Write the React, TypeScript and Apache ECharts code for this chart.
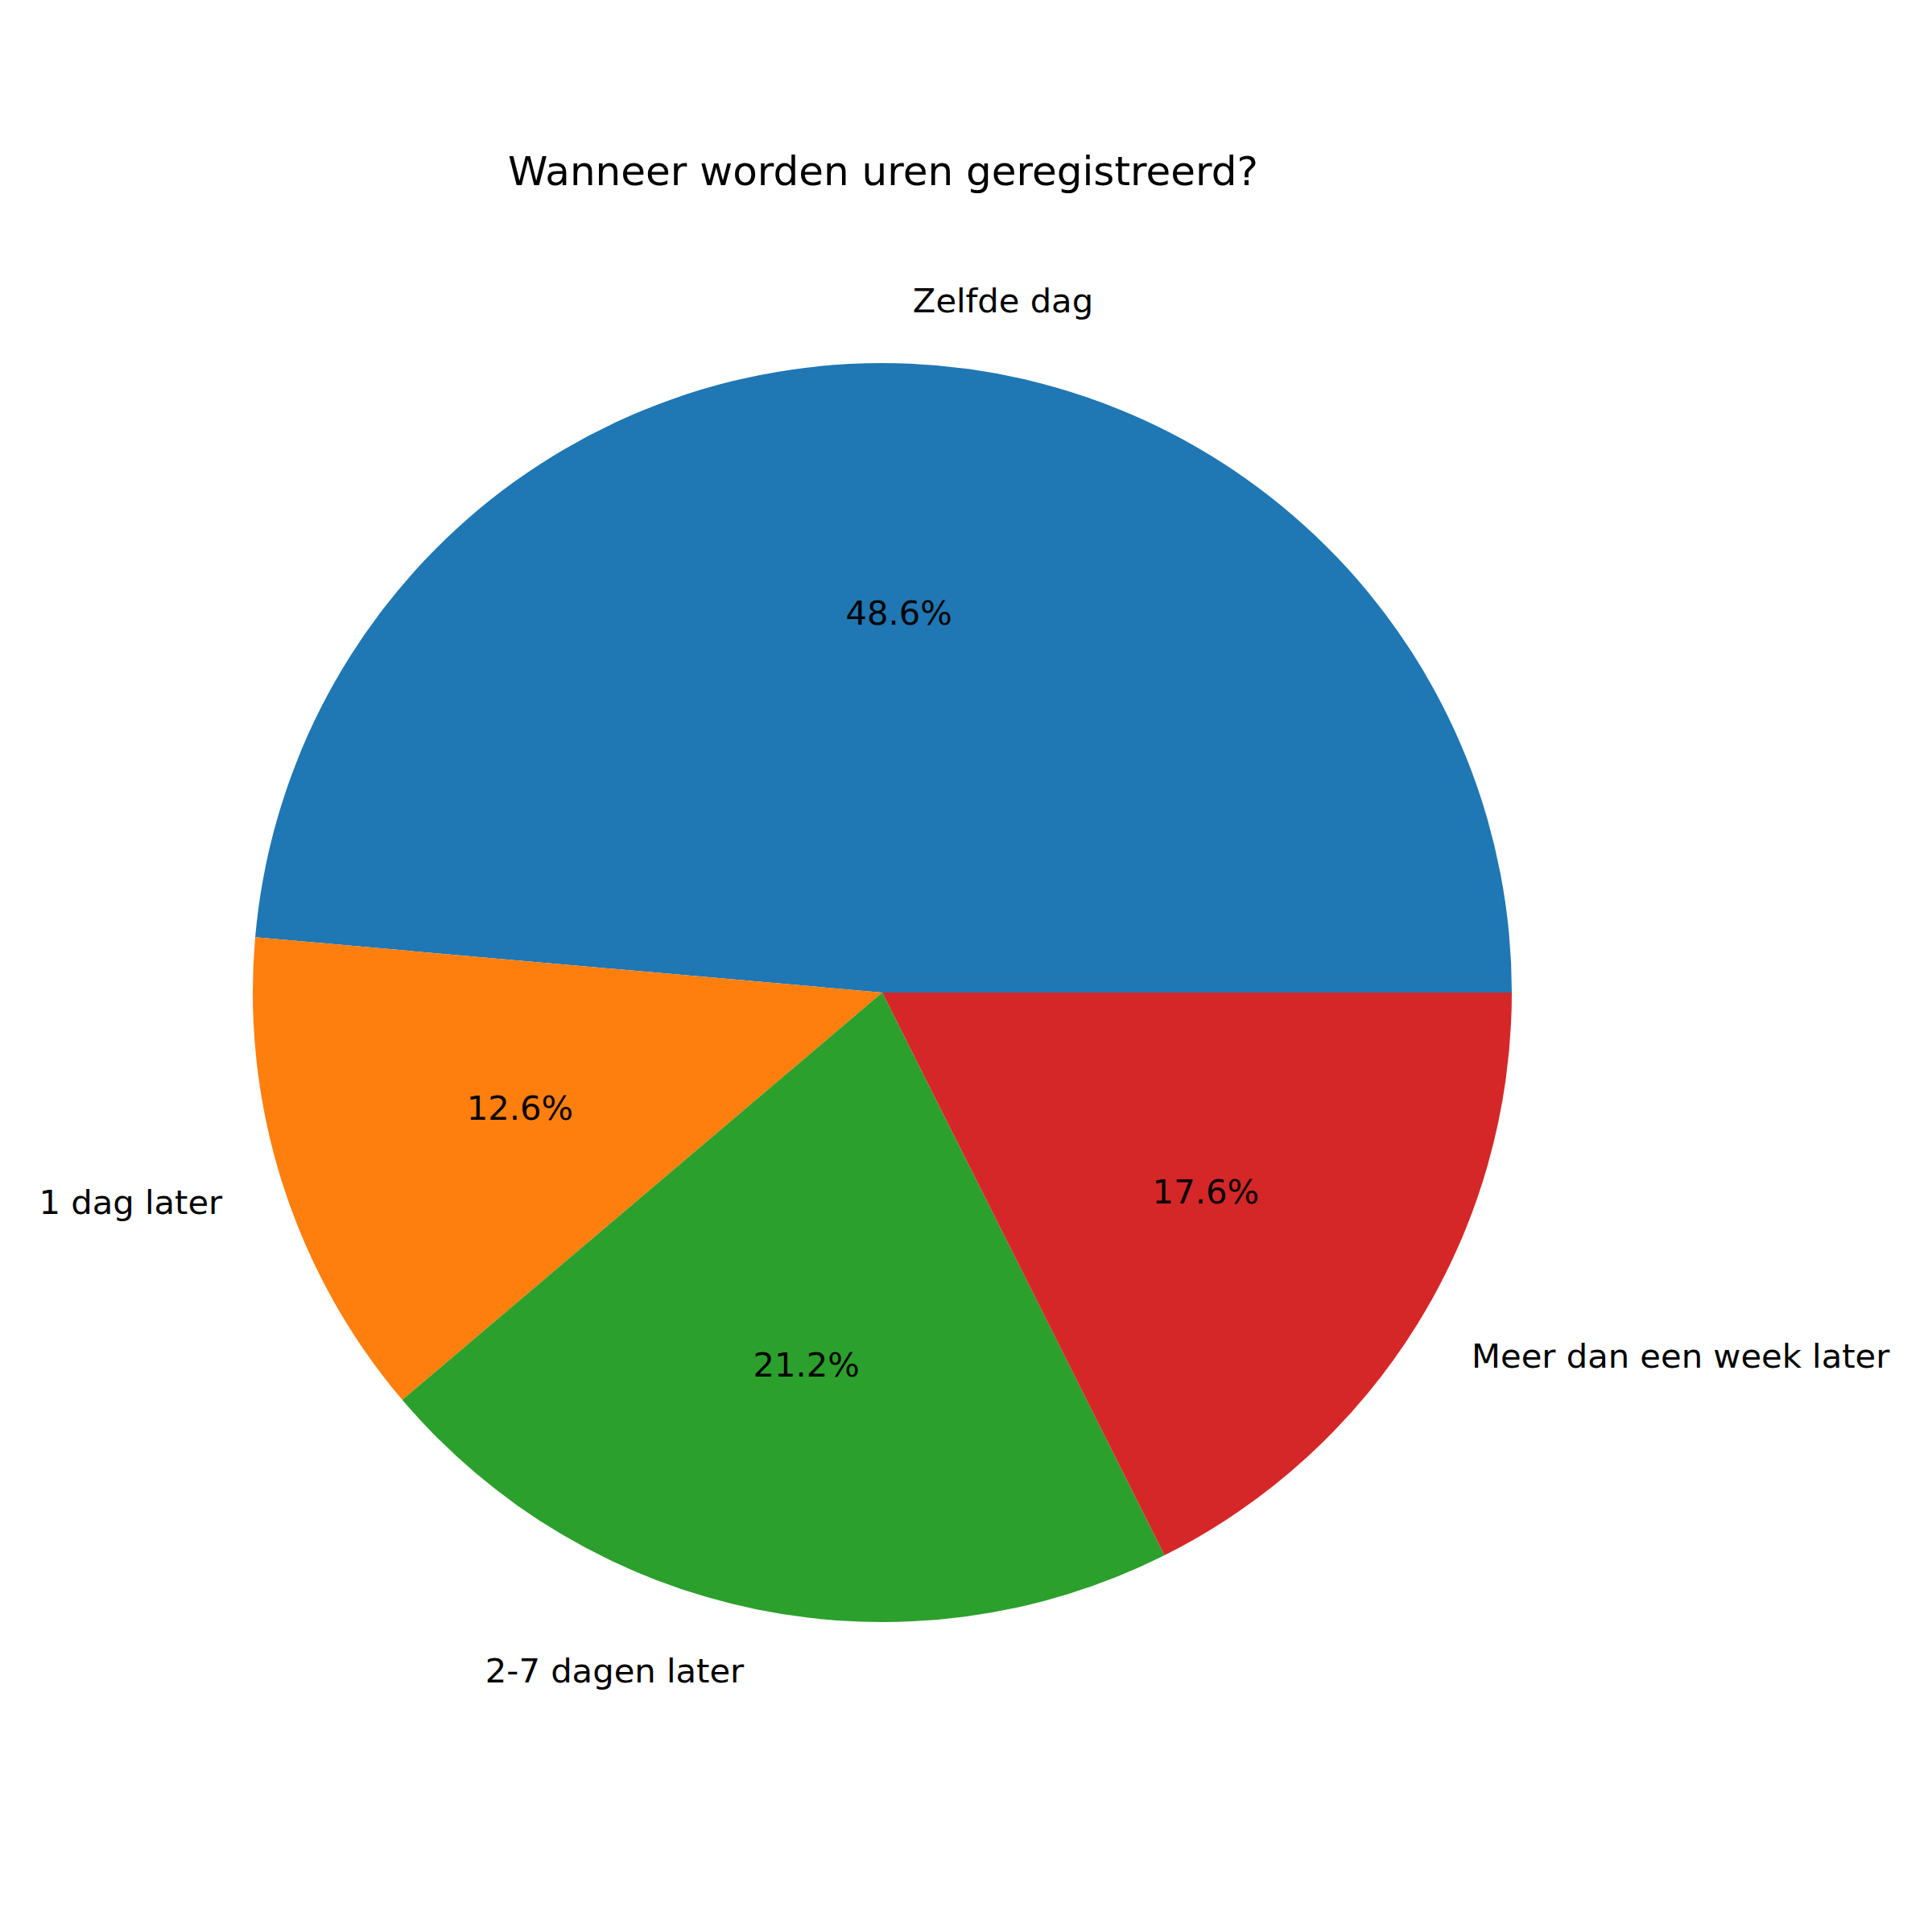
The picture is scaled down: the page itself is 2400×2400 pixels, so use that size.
import React, { useEffect, useRef } from "react";
import * as echarts from "echarts";

const categories = ["Zelfde dag", "1 dag later", "2-7 dagen later", "Meer dan een week later"];
const values = [48.6, 12.6, 21.2, 17.6];
const colors = ["#1f77b4", "#ff7f0e", "#2ca02c", "#d62728"];
const titleText = "Wanneer worden uren geregistreerd?";

const CX = 1096;
const CY = 1233;
const R = 782;
const FONT = "DejaVu Sans";
const LABEL_SIZE = 41.7;

export default function App() {
  const ref = useRef<HTMLDivElement>(null);
  useEffect(() => {
    if (!ref.current) return;
    const chart = echarts.init(ref.current, undefined, { renderer: "svg" });
    const data = categories.map((name, i) => ({
      name,
      value: values[i],
      itemStyle: { color: colors[i] },
    }));
    chart.setOption({
      animation: false,
      backgroundColor: "#ffffff",
      textStyle: { fontFamily: FONT },
      title: {
        text: titleText,
        left: 1097,
        top: 188,
        padding: 0,
        textAlign: "center",
        textStyle: { fontFamily: FONT, fontSize: 50, fontWeight: "normal", color: "#000000" },
      },
      series: [
        {
          type: "pie",
          center: [CX, CY],
          radius: [0, R],
          startAngle: 0,
          clockwise: false,
          avoidLabelOverlap: false,
          silent: true,
          data,
          itemStyle: { borderWidth: 0 },
          label: {
            show: true,
            position: "outside",
            formatter: "{b}",
            fontFamily: FONT,
            fontSize: LABEL_SIZE,
            color: "#000000",
            distanceToLabelLine: 0,
          },
          labelLine: {
            show: true,
            length: R * 0.1,
            length2: 0,
            lineStyle: { width: 0, opacity: 0 },
          },
        },
        {
          type: "pie",
          center: [CX, CY],
          radius: [R * 0.2, R],
          startAngle: 0,
          clockwise: false,
          avoidLabelOverlap: false,
          silent: true,
          data: categories.map((name, i) => ({ name, value: values[i] })),
          itemStyle: { color: "rgba(0,0,0,0)", borderWidth: 0 },
          label: {
            show: true,
            position: "inside",
            formatter: (p: any) => `${Number(p.percent).toFixed(1)}%`,
            fontFamily: FONT,
            fontSize: LABEL_SIZE,
            color: "#000000",
          },
          labelLine: { show: false },
        },
      ],
    });
    return () => chart.dispose();
  }, []);
  return (
    <div
      ref={ref}
      style={{ position: "absolute", left: 0, top: 0, width: 2400, height: 2400 }}
    />
  );
}
